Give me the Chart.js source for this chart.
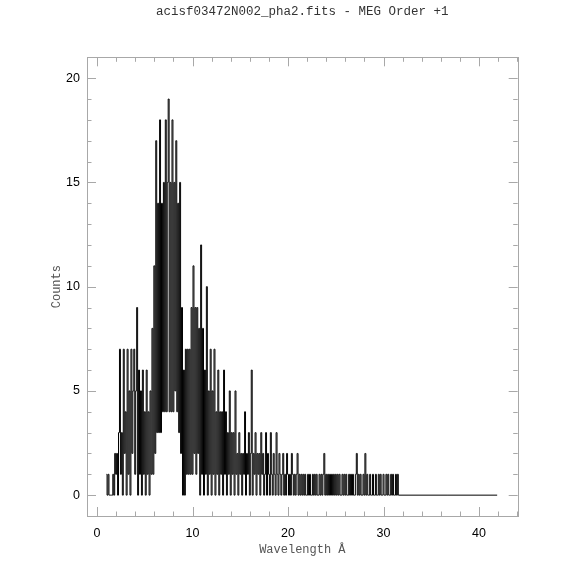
<!DOCTYPE html>
<html>
<head>
<meta charset="utf-8">
<script src="https://cdn.jsdelivr.net/npm/chart.js@4"></script>
<style>
  html, body { margin: 0; padding: 0; background: #fff; }
  canvas { display: block; }
</style>
</head>
<body>
<canvas id="spec" width="574" height="574"></canvas>
<script>
// spectrum, 0.1 A bins starting at 1.0 A
const binStart = 1.0;
const binWidth = 0.1;
const counts = [
  1,0,1,0,0,0,0,1,0,2,        // 1.0
  1,2,0,3,7,1,3,0,7,2,        // 2.0
  4,0,7,1,5,0,7,2,5,7,        // 3.0
  1,5,9,0,6,1,5,0,6,1,        // 4.0
  4,0,6,1,4,0,5,1,8,1,        // 5.0
  11,2,17,3,14,3,18,3,14,4,   // 6.0
  15,4,18,4,15,19,4,15,4,18,  // 7.0
  4,15,5,17,4,14,3,15,2,9,    // 8.0
  0,6,0,7,1,7,1,7,1,9,        // 9.0
  1,11,2,9,1,9,2,8,0,12,      // 10.0
  1,8,0,6,1,10,0,5,1,7,       // 11.0
  0,5,1,7,0,4,1,6,0,4,        // 12.0
  1,4,0,6,1,4,0,3,1,5,        // 13.0
  0,3,1,3,0,5,1,2,0,3,        // 14.0
  1,2,0,2,1,4,0,2,1,3,        // 15.0
  0,2,6,0,2,1,3,0,2,1,        // 16.0
  2,0,3,1,2,0,1,3,0,2,        // 17.0
  1,0,3,1,0,2,1,0,3,1,        // 18.0
  0,2,1,0,1,2,0,1,0,2,        // 19.0
  1,0,1,0,2,1,0,1,0,1,        // 20.0
  2,0,1,0,1,0,1,0,1,0,        // 21.0
  0,1,0,1,0,0,1,0,1,0,        // 22.0
  1,0,0,1,0,1,0,1,2,0,        // 23.0
  1,0,1,0,1,0,1,0,1,0,        // 24.0
  1,0,1,0,1,0,0,1,0,1,        // 25.0
  0,1,0,0,1,0,1,0,1,0,        // 26.0
  0,1,2,0,1,0,1,0,0,1,        // 27.0
  0,2,0,1,0,0,1,0,0,1,        // 28.0
  0,0,1,0,0,1,0,1,0,0,        // 29.0
  1,0,0,1,0,1,0,0,1,0,        // 30.0
  1,0,0,1,0,1,0               // 31.0
];
// flat zero run after the last counts, out to here
const tailEnd = 41.9;

const xRange = [-1.05, 44.05];
const yRange = [-1, 21];
const xTicks = [0, 10, 20, 30, 40];
const yTicks = [0, 5, 10, 15, 20];
const xMinorStep = 2;
const yMinorStep = 1;

const titleText = "acisf03472N002_pha2.fits - MEG Order +1";

const points = counts.map((c, i) => ({ x: +(binStart + i * binWidth).toFixed(2), y: c }));
points.push({ x: tailEnd, y: 0 });

const axisGrey = "#a8a8a8";

// box, inward ticks on all four sides, and the title
const framePlugin = {
  id: "frame",
  afterDatasetsDraw(chart) {
    const { ctx, chartArea: a, scales } = chart;
    const xs = scales.x, ys = scales.y;
    ctx.save();
    ctx.strokeStyle = axisGrey;
    ctx.lineWidth = 1;
    ctx.strokeRect(Math.round(a.left) + 0.5, Math.round(a.top) + 0.5,
                   Math.round(a.right - a.left), Math.round(a.bottom - a.top));
    ctx.beginPath();
    for (let v = 0; v <= xRange[1]; v += xMinorStep) {
      const px = Math.round(xs.getPixelForValue(v)) + 0.5;
      const len = v % 10 === 0 ? 9 : 4.5;
      ctx.moveTo(px, a.bottom); ctx.lineTo(px, a.bottom - len);
      ctx.moveTo(px, a.top); ctx.lineTo(px, a.top + len);
    }
    for (let v = 0; v <= yRange[1]; v += yMinorStep) {
      const py = Math.round(ys.getPixelForValue(v)) + 0.5;
      const len = v % 5 === 0 ? 9 : 4.5;
      ctx.moveTo(a.left, py); ctx.lineTo(a.left + len, py);
      ctx.moveTo(a.right, py); ctx.lineTo(a.right - len, py);
    }
    ctx.stroke();

    ctx.fillStyle = "#333";
    ctx.font = '12.5px "Liberation Mono"';
    ctx.textAlign = "center";
    ctx.textBaseline = "middle";
    ctx.fillText(titleText, (a.left + a.right) / 2, 12);
    ctx.restore();
  }
};

new Chart(document.getElementById("spec"), {
  type: "line",
  data: {
    datasets: [{
      data: points,
      stepped: "middle",
      borderColor: "#000",
      borderWidth: 1,
      pointRadius: 0,
      fill: false
    }]
  },
  options: {
    responsive: false,
    animation: false,
    devicePixelRatio: 1,
    layout: { padding: { left: 0, right: 56.3, top: 57.3, bottom: 0 } },
    plugins: {
      legend: { display: false },
      tooltip: { enabled: false },
      title: { display: false }
    },
    scales: {
      x: {
        type: "linear",
        min: xRange[0],
        max: xRange[1],
        afterBuildTicks: s => { s.ticks = xTicks.map(v => ({ value: v })); },
        afterFit: s => { s.height = 58; },
        grid: { display: false, drawTicks: false },
        border: { display: false },
        ticks: {
          color: "#000",
          padding: 10,
          maxRotation: 0,
          font: { family: "Liberation Sans", size: 12.5 }
        },
        title: {
          display: true,
          text: "Wavelength Å",
          color: "#555",
          padding: { top: 0, bottom: 16.8 },
          font: { family: "Liberation Mono", size: 12 }
        }
      },
      y: {
        min: yRange[0],
        max: yRange[1],
        afterBuildTicks: s => { s.ticks = yTicks.map(v => ({ value: v })); },
        afterFit: s => { s.width = 87; },
        grid: { display: false, drawTicks: false },
        border: { display: false },
        ticks: {
          color: "#000",
          padding: 7,
          font: { family: "Liberation Sans", size: 12.5 }
        },
        title: {
          display: true,
          text: "Counts",
          color: "#555",
          padding: { top: 49.8, bottom: 0 },
          font: { family: "Liberation Mono", size: 12 }
        }
      }
    }
  },
  plugins: [framePlugin]
});
</script>
</body>
</html>
